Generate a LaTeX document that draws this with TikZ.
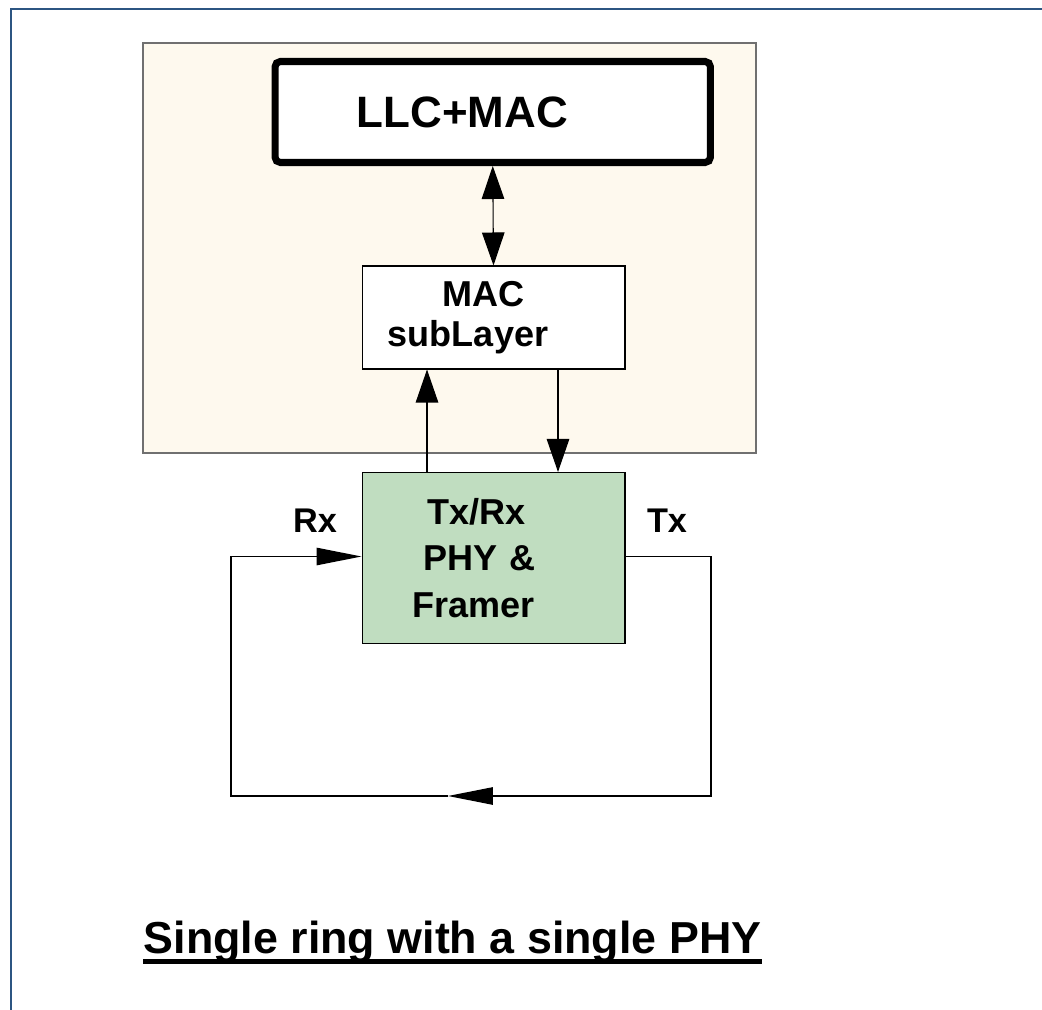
\documentclass[tikz,border=0pt]{standalone}
\usepackage{fontspec}
\setmainfont{Liberation Sans}
\usepackage{tikz}
\usetikzlibrary{arrows.meta}

\definecolor{cream}{RGB}{254,249,238}
\definecolor{phygreen}{RGB}{192,221,192}
\definecolor{framebl}{RGB}{44,85,130}
\definecolor{shellgray}{RGB}{112,112,112}

\begin{document}
\begin{tikzpicture}[x=0.02cm, y=-0.02cm,
    box/.style={draw, line width=0.6pt, inner sep=0pt, align=center,
        font=\bfseries\fontsize{20}{26}\selectfont},
    vert/.style={line width=0.6pt, -{Triangle[length=0.66cm, width=0.45cm]}},
    ring/.style={line width=0.6pt, -{Triangle[length=0.9cm, width=0.35cm]}},
    side/.style={font=\bfseries\fontsize{19.5}{23}\selectfont}]
\useasboundingbox (0,0) rectangle (1042,1010);
\draw[framebl, line width=0.7pt] (11,1010) -- (11,9) -- (1042,9);
% station shell
\filldraw[fill=cream, draw=shellgray, line width=0.7pt] (143,43) rectangle (756,453);
\node[box, line width=4pt, fill=white, rounded corners=3pt,
    minimum width=8.71cm, minimum height=2.02cm,
    font=\bfseries\fontsize{25}{30}\selectfont] (llc) at (492.75,112) {LLC+MAC\hspace*{1.22cm}};
\node[box, fill=white, minimum width=5.26cm, minimum height=2.06cm,
    font=\bfseries\fontsize{20.5}{23}\selectfont] (mac) at (493.5,317.5) {MAC\hspace*{0.38cm}\\subLayer\hspace*{1.02cm}};
\node[box, fill=phygreen, align=left, text width=5.26cm, minimum height=3.42cm,
    font=\bfseries\fontsize{20.5}{26.5}\selectfont] (phy) at (493.5,558)
    {\hspace*{1.3cm}Tx/Rx\\\hspace*{1.22cm}PHY \&\\\hspace*{1.0cm}Framer};
\draw[vert, {Triangle[length=0.66cm, width=0.45cm]}-{Triangle[length=0.66cm, width=0.45cm]}] (llc.south) -- (mac.north);
\coordinate (upx) at (427,0);
\coordinate (downx) at (558,0);
\draw[vert] (phy.north -| upx) -- (mac.south -| upx);
\draw[vert] (mac.south -| downx) -- (phy.north -| downx);
% ring
\coordinate (ringR) at (711,796);
\coordinate (ringM) at (448,796);
\coordinate (ringL) at (231,796);
\draw[ring] (phy.east |- 0,556.5) -| (ringR) -- (ringM);
\draw[ring] (ringM) -- (ringL) |- (phy.west |- 0,556.5);
\node[side] (rx) at (315,521) {Rx};
\node[side] (tx) at (667,521) {Tx};
\node[inner sep=0pt, anchor=base, font=\bfseries\fontsize{25.5}{30}\selectfont] (title) at (452.5,953) {Single ring with a single PHY};
\draw[line width=3pt] ([yshift=-0.17cm]title.base west) -- ([yshift=-0.17cm]title.base east);
\end{tikzpicture}
\end{document}
